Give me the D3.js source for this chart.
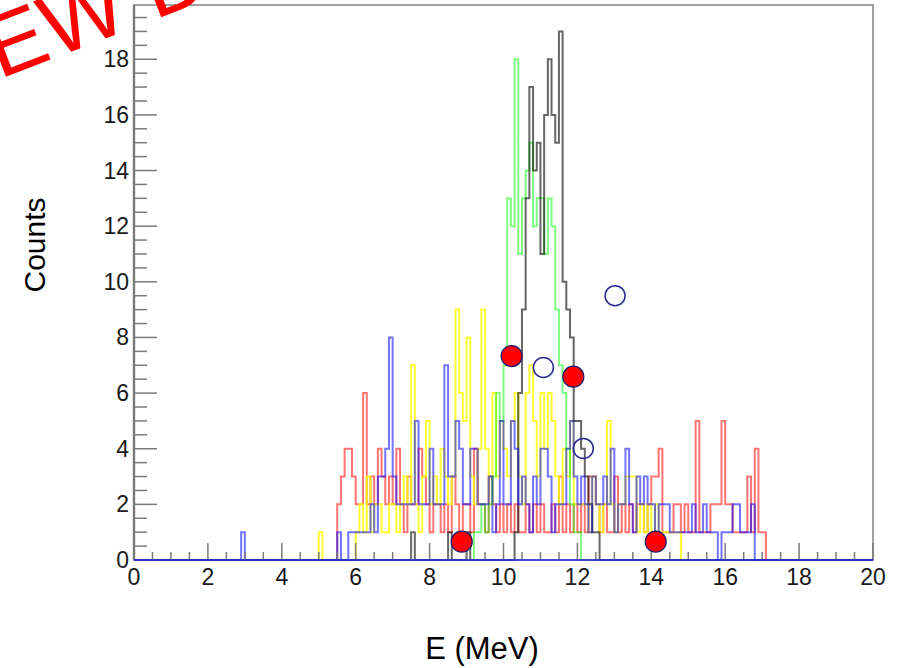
<!DOCTYPE html>
<html>
<head>
<meta charset="utf-8">
<script src="https://cdn.jsdelivr.net/npm/d3@7"></script>
<style>
  body { margin: 0; background: #fff; }
  svg { display: block; }
</style>
</head>
<body>
<script>
// histogram bins are 0.1 MeV wide, counts listed from each series' first bin
const binW = 0.1;
const nBins = 200;

const redStart = 5.5;
const redCounts = [2,3,4,4,3,
  2,2,6,2,3,2,4,3,2,3,
  2,4,2,1,3,2,2,4,3,2,
  1,2,2,1,2,1,3,2,1,2,
  2,1,4,2,2,1,3,2,1,2,
  1,2,1,2,1,1,2,1,2,1,
  2,1,1,2,1,3,1,2,1,2,
  1,2,1,3,3,2,1,2,1,1,
  3,1,2,1,2,1,2,2,1,2,
  3,3,4,1,1,1,2,2,1,2,
  1,1,5,1,1,1,2,2,2,5,
  2,2,1,1,1,1,3,1,4,1,
  1];

const yellowStart = 5.0;
const yellowCounts = [1,0,0,0,0,0,0,0,0,0,
  1,2,1,3,1,2,2,1,1,2,
  2,1,2,3,2,7,2,1,3,5,
  2,3,2,4,3,2,3,9,6,5,
  8,3,2,4,9,4,2,6,3,5,
  4,3,5,6,3,2,6,7,5,3,
  6,4,6,5,3,2,4,3,5,2,
  2,2,2,1,3,2,1,2,5,2,
  1,2,2,3,3,3,1,2,1,2,
  1,2,1,1,1,1,1,1];

const greenStart = 9.2;
const greenCounts = [1,1,2,1,2,3,6,5,
  7,13,12,18,11,13,14,15,12,13,
  13,11,13,12,9,7,6,4,2,1,
  1];

const blackStart = 7.5;
const blackCounts = [1,0,0,0,0,
  0,0,0,0,0,1,0,0,0,0,
  1,0,0,0,0,0,0,0,0,0,
  0,0,0,1,6,9,13,17,14,15,
  11,16,18,16,15,19,10,9,8,5,
  5,4,3,2,1,1];

const blueStart = 2.9;
const blueCounts = [1,
  0,0,0,0,0,0,0,0,0,0,
  0,0,0,0,0,0,0,0,0,0,
  0,0,0,0,0,1,0,0,1,1,
  1,1,1,1,2,1,3,3,4,8,
  3,2,2,2,2,2,5,2,2,2,
  4,2,2,2,7,3,3,5,4,2,
  2,4,4,2,2,2,3,1,2,5,
  2,2,5,4,2,3,2,1,3,2,
  4,4,3,1,2,2,2,4,5,3,
  2,3,2,1,3,2,2,3,2,4,
  1,2,2,4,2,1,3,2,3,2,
  2,1,2,2,2,1,1,1,1,1,
  1,2,1,1,2,1,1,1,0,1,
  1,1,2,2,1,1,1,2];

// data points with markers
const fullE = [8.87, 10.22, 11.89, 14.12];
const fullC = [0.66, 7.33, 6.59, 0.66];
const openE = [13.02, 11.08, 12.16];
const openC = [9.5, 6.92, 4.01];

const xTicks = [0, 2, 4, 6, 8, 10, 12, 14, 16, 18, 20];
const yTicks = [0, 2, 4, 6, 8, 10, 12, 14, 16, 18];

const W = 899, H = 668;
const pL = 134, pR = 873, pT = 5, pB = 560;

const svg = d3.select("body").append("svg")
  .attr("width", W)
  .attr("height", H)
  .style("font-family", "'Liberation Sans', Arial, sans-serif");

const x = d3.scaleLinear().domain([0, 20]).range([pL, pR]);
const y = d3.scaleLinear().domain([0, 19.95]).range([pB, pT]);

function fullBins(start, counts) {
  const arr = new Array(nBins).fill(0);
  counts.forEach((c, i) => { arr[Math.round(start / binW) + i] = c; });
  const pts = arr.map((c, k) => [k * binW, c]);
  pts.push([nBins * binW, arr[nBins - 1]]);
  return pts;
}

const step = d3.line()
  .x(d => x(d[0]))
  .y(d => y(d[1]))
  .curve(d3.curveStepAfter);

const series = [
  {start: redStart, counts: redCounts, color: "rgba(255,0,0,0.55)"},
  {start: yellowStart, counts: yellowCounts, color: "rgba(255,255,0,0.8)"},
  {start: greenStart, counts: greenCounts, color: "rgba(0,255,0,0.5)"},
  {start: blackStart, counts: blackCounts, color: "rgba(0,0,0,0.6)"},
  {start: blueStart, counts: blueCounts, color: "rgba(0,0,255,0.55)"}
];

svg.append("g").selectAll("path")
  .data(series)
  .enter().append("path")
    .attr("d", d => step(fullBins(d.start, d.counts)))
    .attr("fill", "none")
    .attr("stroke", d => d.color)
    .attr("stroke-width", 2);

// frame
svg.append("rect")
  .attr("x", pL).attr("y", pT)
  .attr("width", pR - pL).attr("height", pB - pT)
  .attr("fill", "none")
  .attr("stroke", "#808080")
  .attr("stroke-width", 1.5);

// axes, ROOT style: ticks inside
const axisColor = "#7a7a7a";
const xAxis = svg.append("g");
xAxis.selectAll("line")
  .data(d3.range(0, 20.01, 0.5))
  .enter().append("line")
    .attr("x1", d => x(d)).attr("x2", d => x(d))
    .attr("y1", pB).attr("y2", d => pB - (d % 2 === 0 ? 17 : 8))
    .attr("stroke", axisColor)
    .attr("stroke-width", 1.5);
xAxis.selectAll("text")
  .data(xTicks)
  .enter().append("text")
    .attr("x", d => x(d))
    .attr("y", 585)
    .attr("text-anchor", "middle")
    .attr("font-size", "23px")
    .attr("fill", "#1a1a1a")
    .text(d => d);

const yAxis = svg.append("g");
yAxis.selectAll("line")
  .data(d3.range(0, 19.9, 0.5))
  .enter().append("line")
    .attr("x1", pL).attr("x2", d => pL + (d % 2 === 0 ? 23 : 13))
    .attr("y1", d => y(d)).attr("y2", d => y(d))
    .attr("stroke", axisColor)
    .attr("stroke-width", 1.5);
yAxis.selectAll("text")
  .data(yTicks)
  .enter().append("text")
    .attr("x", 129)
    .attr("y", d => y(d) + 8)
    .attr("text-anchor", "end")
    .attr("font-size", "23px")
    .attr("fill", "#1a1a1a")
    .text(d => d);

// bold left axis line, blue zero line on top
svg.append("line")
  .attr("x1", pL).attr("x2", pL)
  .attr("y1", pT).attr("y2", pB)
  .attr("stroke", axisColor)
  .attr("stroke-width", 2.4);
svg.append("line")
  .attr("x1", pL).attr("x2", pR)
  .attr("y1", pB).attr("y2", pB)
  .attr("stroke", "rgba(0,0,255,0.55)")
  .attr("stroke-width", 2);

// markers
svg.append("g").selectAll("circle")
  .data(openE)
  .enter().append("circle")
    .attr("cx", d => x(d))
    .attr("cy", (d, i) => y(openC[i]))
    .attr("r", 10)
    .attr("fill", "none")
    .attr("stroke", "#2a2a90")
    .attr("stroke-width", 1.5);

svg.append("g").selectAll("circle")
  .data(fullE)
  .enter().append("circle")
    .attr("cx", d => x(d))
    .attr("cy", (d, i) => y(fullC[i]))
    .attr("r", 10.5)
    .attr("fill", "#ff0000")
    .attr("stroke", "#1c1c6b")
    .attr("stroke-width", 1.2);

// axis titles
svg.append("text")
  .attr("transform", "translate(45,245) rotate(-90)")
  .attr("text-anchor", "middle")
  .attr("font-size", "30px")
  .attr("fill", "#000")
  .text("Counts");

svg.append("text")
  .attr("x", 482)
  .attr("y", 659)
  .attr("text-anchor", "middle")
  .attr("font-size", "31px")
  .attr("fill", "#000")
  .text("E (MeV)");

// red stamp
svg.append("text")
  .attr("transform", "translate(-60,102) rotate(-21)")
  .attr("font-size", "88px")
  .attr("fill", "#ff0000")
  .text("NEW DATA");
</script>
</body>
</html>
